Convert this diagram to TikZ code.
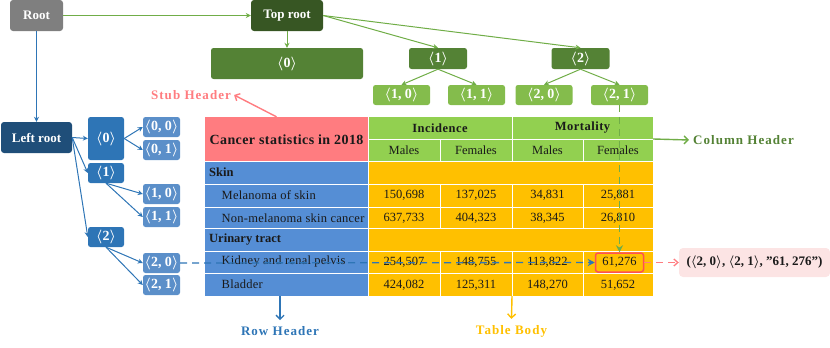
\RequirePackage{fix-cm}
\documentclass[tikz,border=0pt]{standalone}
\usepackage{fontspec}
\setmainfont{Liberation Serif}
\usetikzlibrary{arrows.meta}
\definecolor{rootgray}{HTML}{7F7F7F}
\definecolor{topgreen}{HTML}{375623}
\definecolor{midgreen}{HTML}{548235}
\definecolor{leafgreen}{HTML}{84BC4C}
\definecolor{linegreen}{HTML}{70AD47}
\definecolor{leftblue}{HTML}{1F4E79}
\definecolor{midblue}{HTML}{2E75B6}
\definecolor{leafblue}{HTML}{5B8FC9}
\definecolor{stubpink}{HTML}{FF7C80}
\definecolor{hdrgreen}{HTML}{92D050}
\definecolor{rowblue}{HTML}{558ED5}
\definecolor{bodyorange}{HTML}{FFC000}
\definecolor{cellred}{HTML}{FF5050}
\definecolor{outpink}{HTML}{FCE4E4}
\definecolor{txt}{HTML}{1A1A1A}
\newcommand\ang[1]{$\langle$#1$\rangle$}
\tikzset{
  tbox/.style={rounded corners=3pt, text=white, inner sep=0pt,
    font=\bfseries\fontsize{13}{15}\selectfont\boldmath},
  mbox/.style={rounded corners=2.5pt, text=white, inner sep=0pt,
    font=\bfseries\fontsize{14}{16}\selectfont\boldmath},
  garrow/.style={draw=linegreen, line width=1pt, -{Stealth[length=5pt,width=5pt]}},
  barrow/.style={draw=midblue, line width=1pt, -{Stealth[length=5pt,width=5pt]}},
  region/.style={inner sep=0pt, draw=none},
  celltxt/.style={text=txt, inner sep=0pt, font=\fontsize{12.5}{14}\selectfont},
  hdrtxt/.style={text=txt, inner sep=0pt, font=\bfseries\fontsize{12.5}{14}\selectfont\addfontfeature{LetterSpace=4}},
  rowtxt/.style={text=txt, inner sep=0pt, anchor=west, font=\fontsize{12.5}{14}\selectfont\addfontfeature{LetterSpace=2}},
  lbl/.style={inner sep=0pt, font=\bfseries\fontsize{13}{15}\selectfont\addfontfeature{LetterSpace=8}},
  grid/.style={draw=white, line width=0.6pt}
}
\begin{document}
\begin{tikzpicture}[x=1pt,y=-1pt]
\useasboundingbox (0,0) rectangle (830,348);
% ---------- top tree ----------
\node[tbox, fill=rootgray, minimum width=53, minimum height=31] (root) at (36.5,15.5) {Root};
\node[tbox, fill=topgreen, minimum width=72, minimum height=31] (top) at (287,15.5) {Top root};
\node[mbox, fill=midgreen, minimum width=152, minimum height=31] (t0) at (287,63.5) {\ang{0}};
\node[mbox, fill=midgreen, minimum width=58, minimum height=21] (t1) at (438,58.5) {\ang{1}};
\node[mbox, fill=midgreen, minimum width=58, minimum height=21] (t2) at (580.5,58.5) {\ang{2}};
\node[mbox, fill=leafgreen, minimum width=57, minimum height=20] (t10) at (401.5,95) {\ang{1, 0}};
\node[mbox, fill=leafgreen, minimum width=57, minimum height=20] (t11) at (476.5,95) {\ang{1, 1}};
\node[mbox, fill=leafgreen, minimum width=57, minimum height=20] (t20) at (544,95) {\ang{2, 0}};
\node[mbox, fill=leafgreen, minimum width=57, minimum height=20] (t21) at (619.5,95) {\ang{2, 1}};
\draw[garrow] (root.east) -- (top.west);
\draw[garrow] (top.south) -- (t0.north);
\draw[garrow] (top.east) -- (t1.north);
\draw[garrow] (top.east) -- (t2.north);
\draw[garrow] (t1.south) -- (t10.north);
\draw[garrow] (t1.south) -- (t11.north);
\draw[garrow] (t2.south) -- (t20.north);
\draw[garrow] (t2.south) -- (t21.north);
% ---------- left tree ----------
\node[tbox, fill=leftblue, minimum width=71, minimum height=31] (left) at (36.5,137.5) {Left root};
\node[mbox, fill=midblue, minimum width=36, minimum height=43] (l0) at (106,138.5) {\ang{0}};
\node[mbox, fill=midblue, minimum width=36, minimum height=20] (l1) at (106,173) {\ang{1}};
\node[mbox, fill=midblue, minimum width=36, minimum height=20] (l2) at (106,237) {\ang{2}};
\node[mbox, fill=leafblue, minimum width=37, minimum height=20] (l00) at (161.5,127) {\ang{0, 0}};
\node[mbox, fill=leafblue, minimum width=37, minimum height=20] (l01) at (161.5,150) {\ang{0, 1}};
\node[mbox, fill=leafblue, minimum width=37, minimum height=20] (l10) at (161.5,194) {\ang{1, 0}};
\node[mbox, fill=leafblue, minimum width=37, minimum height=20] (l11) at (161.5,217) {\ang{1, 1}};
\node[mbox, fill=leafblue, minimum width=37, minimum height=20] (l20) at (161.5,263) {\ang{2, 0}};
\node[mbox, fill=leafblue, minimum width=37, minimum height=20] (l21) at (161.5,285) {\ang{2, 1}};
\draw[barrow] (root.south) -- (left.north);
\draw[barrow] (left.east) -- (l0.west);
\draw[barrow] (left.east) -- (l1.west);
\draw[barrow] (left.east) -- (l2.west);
\draw[barrow] (l0.east) -- (l00.west);
\draw[barrow] (l0.east) -- (l01.west);
\draw[barrow] (l1.south) -- (l10.west);
\draw[barrow] (l1.south) -- (l11.west);
\draw[barrow] (l2.south) -- (l20.west);
\draw[barrow] (l2.south) -- (l21.west);
% ---------- table regions ----------
\node[region, fill=stubpink, minimum width=163, minimum height=44] (stub) at (286.5,139) {};
\node[region, fill=hdrgreen, minimum width=285, minimum height=44] (colhdr) at (510.5,139) {};
\node[region, fill=rowblue, minimum width=163, minimum height=135] (rowhdr) at (286.5,228.5) {};
\node[region, fill=bodyorange, minimum width=285, minimum height=135] (body) at (510.5,228.5) {};
% grid lines
\draw[grid] (368,117) -- (368,296);
\draw[grid] (368,139) -- (653,139);
\draw[grid] (205,161) -- (653,161);
\draw[grid] (512,117) -- (512,161);
\draw[grid] (440,139) -- (440,161);
\draw[grid] (583,139) -- (583,161);
\foreach \yy in {184,207,228,251,273} \draw[grid] (205,\yy) -- (653,\yy);
\foreach \xx in {440,512,583} {
  \draw[grid] (\xx,184) -- (\xx,228);
  \draw[grid] (\xx,251) -- (\xx,296);
}
% header texts
\node[text=txt, inner sep=0pt, font=\bfseries\fontsize{14}{16}\selectfont\addfontfeature{LetterSpace=3}] (stubtxt) at (286.5,140) {Cancer statistics in 2018};
\node[hdrtxt] (inc) at (440,128) {Incidence};
\node[hdrtxt] (mor) at (582.5,128) {Mortality};
\node[celltxt] (h1) at (404,150.5) {Males};
\node[celltxt] (h2) at (476,150.5) {Females};
\node[celltxt] (h3) at (547.5,150.5) {Males};
\node[celltxt] (h4) at (618,150.5) {Females};
% row texts
\node[rowtxt, font=\bfseries\fontsize{12.5}{14}\selectfont] (r1) at (209,172.5) {Skin};
\node[rowtxt] (r2) at (221.5,195.5) {Melanoma of skin};
\node[rowtxt] (r3) at (221.5,218) {Non-melanoma skin cancer};
\node[rowtxt, font=\bfseries\fontsize{12.5}{14}\selectfont] (r4) at (209,239.5) {Urinary tract};
\node[rowtxt] (r5) at (221.5,261.5) {Kidney and renal pelvis};
\node[rowtxt] (r6) at (221.5,284) {Bladder};
% data
\node[celltxt] (d11) at (404,195.5) {150,698};
\node[celltxt] (d12) at (476,195.5) {137,025};
\node[celltxt] (d13) at (547.5,195.5) {34,831};
\node[celltxt] (d14) at (618,195.5) {25,881};
\node[celltxt] (d21) at (404,218) {637,733};
\node[celltxt] (d22) at (476,218) {404,323};
\node[celltxt] (d23) at (547.5,218) {38,345};
\node[celltxt] (d24) at (618,218) {26,810};
\node[celltxt] (d31) at (404,262.5) {254,507};
\node[celltxt] (d32) at (476,262.5) {148,755};
\node[celltxt] (d33) at (547.5,262.5) {113,822};
\node[celltxt] (d41) at (404,285) {424,082};
\node[celltxt] (d42) at (476,285) {125,311};
\node[celltxt] (d43) at (547.5,285) {148,270};
\node[celltxt] (d44) at (618,285) {51,652};
\node[celltxt, draw=cellred, line width=1.5pt, rounded corners=2.5pt, minimum width=48, minimum height=19] (cell) at (619.5,262.5) {61,276};
% output
\node[fill=outpink, rounded corners=4pt, minimum width=151, minimum height=29, inner sep=0pt,
  font=\bfseries\fontsize{13}{15}\selectfont\boldmath, text=txt] (out) at (754.5,262.5)
  {(\ang{2, 0}, \ang{2, 1}, \symbol{34}61, 276\symbol{34})};
% dashed connectors
\draw[midblue, line width=1.3pt, dash pattern=on 7pt off 5pt, -{Stealth[length=7pt,width=7pt]}] (l20.east) -- (cell.west);
\draw[linegreen, line width=1.3pt, dash pattern=on 7pt off 5pt, -{Stealth[length=7pt,width=7pt]}] (t21.south) -- (cell.north);
\draw[stubpink, line width=1.3pt, dash pattern=on 7pt off 5pt, -{Straight Barb[length=4pt,width=7pt]}] (cell.east) -- (out.west);
% labels
\node[lbl, text=stubpink] (stublbl) at (191,95) {Stub Header};
\node[lbl, text=midgreen, anchor=west] (collbl) at (693,140) {Column Header};
\node[lbl, text=midblue] (rowlbl) at (280,331) {Row Header};
\node[lbl, text=bodyorange] (bodylbl) at (511.5,331) {Table Body};
\draw[stubpink, line width=1.4pt, -{Straight Barb[length=4pt,width=8pt]}] ([xshift=-10pt]stub.north) -- ([xshift=3pt]stublbl.east);
\draw[linegreen, line width=1.4pt, -{Straight Barb[length=4pt,width=8pt]}] (colhdr.east) -- ([xshift=-4pt]collbl.west);
\draw[midblue, line width=1.4pt, -{Straight Barb[length=4pt,width=8pt]}] ([xshift=-6.5pt]rowhdr.south) -- ([yshift=6pt]rowlbl.north);
\draw[bodyorange, line width=1.4pt, -{Straight Barb[length=4pt,width=8pt]}] ([xshift=1.5pt]body.south) -- ([yshift=6pt]bodylbl.north);
\end{tikzpicture}
\end{document}
